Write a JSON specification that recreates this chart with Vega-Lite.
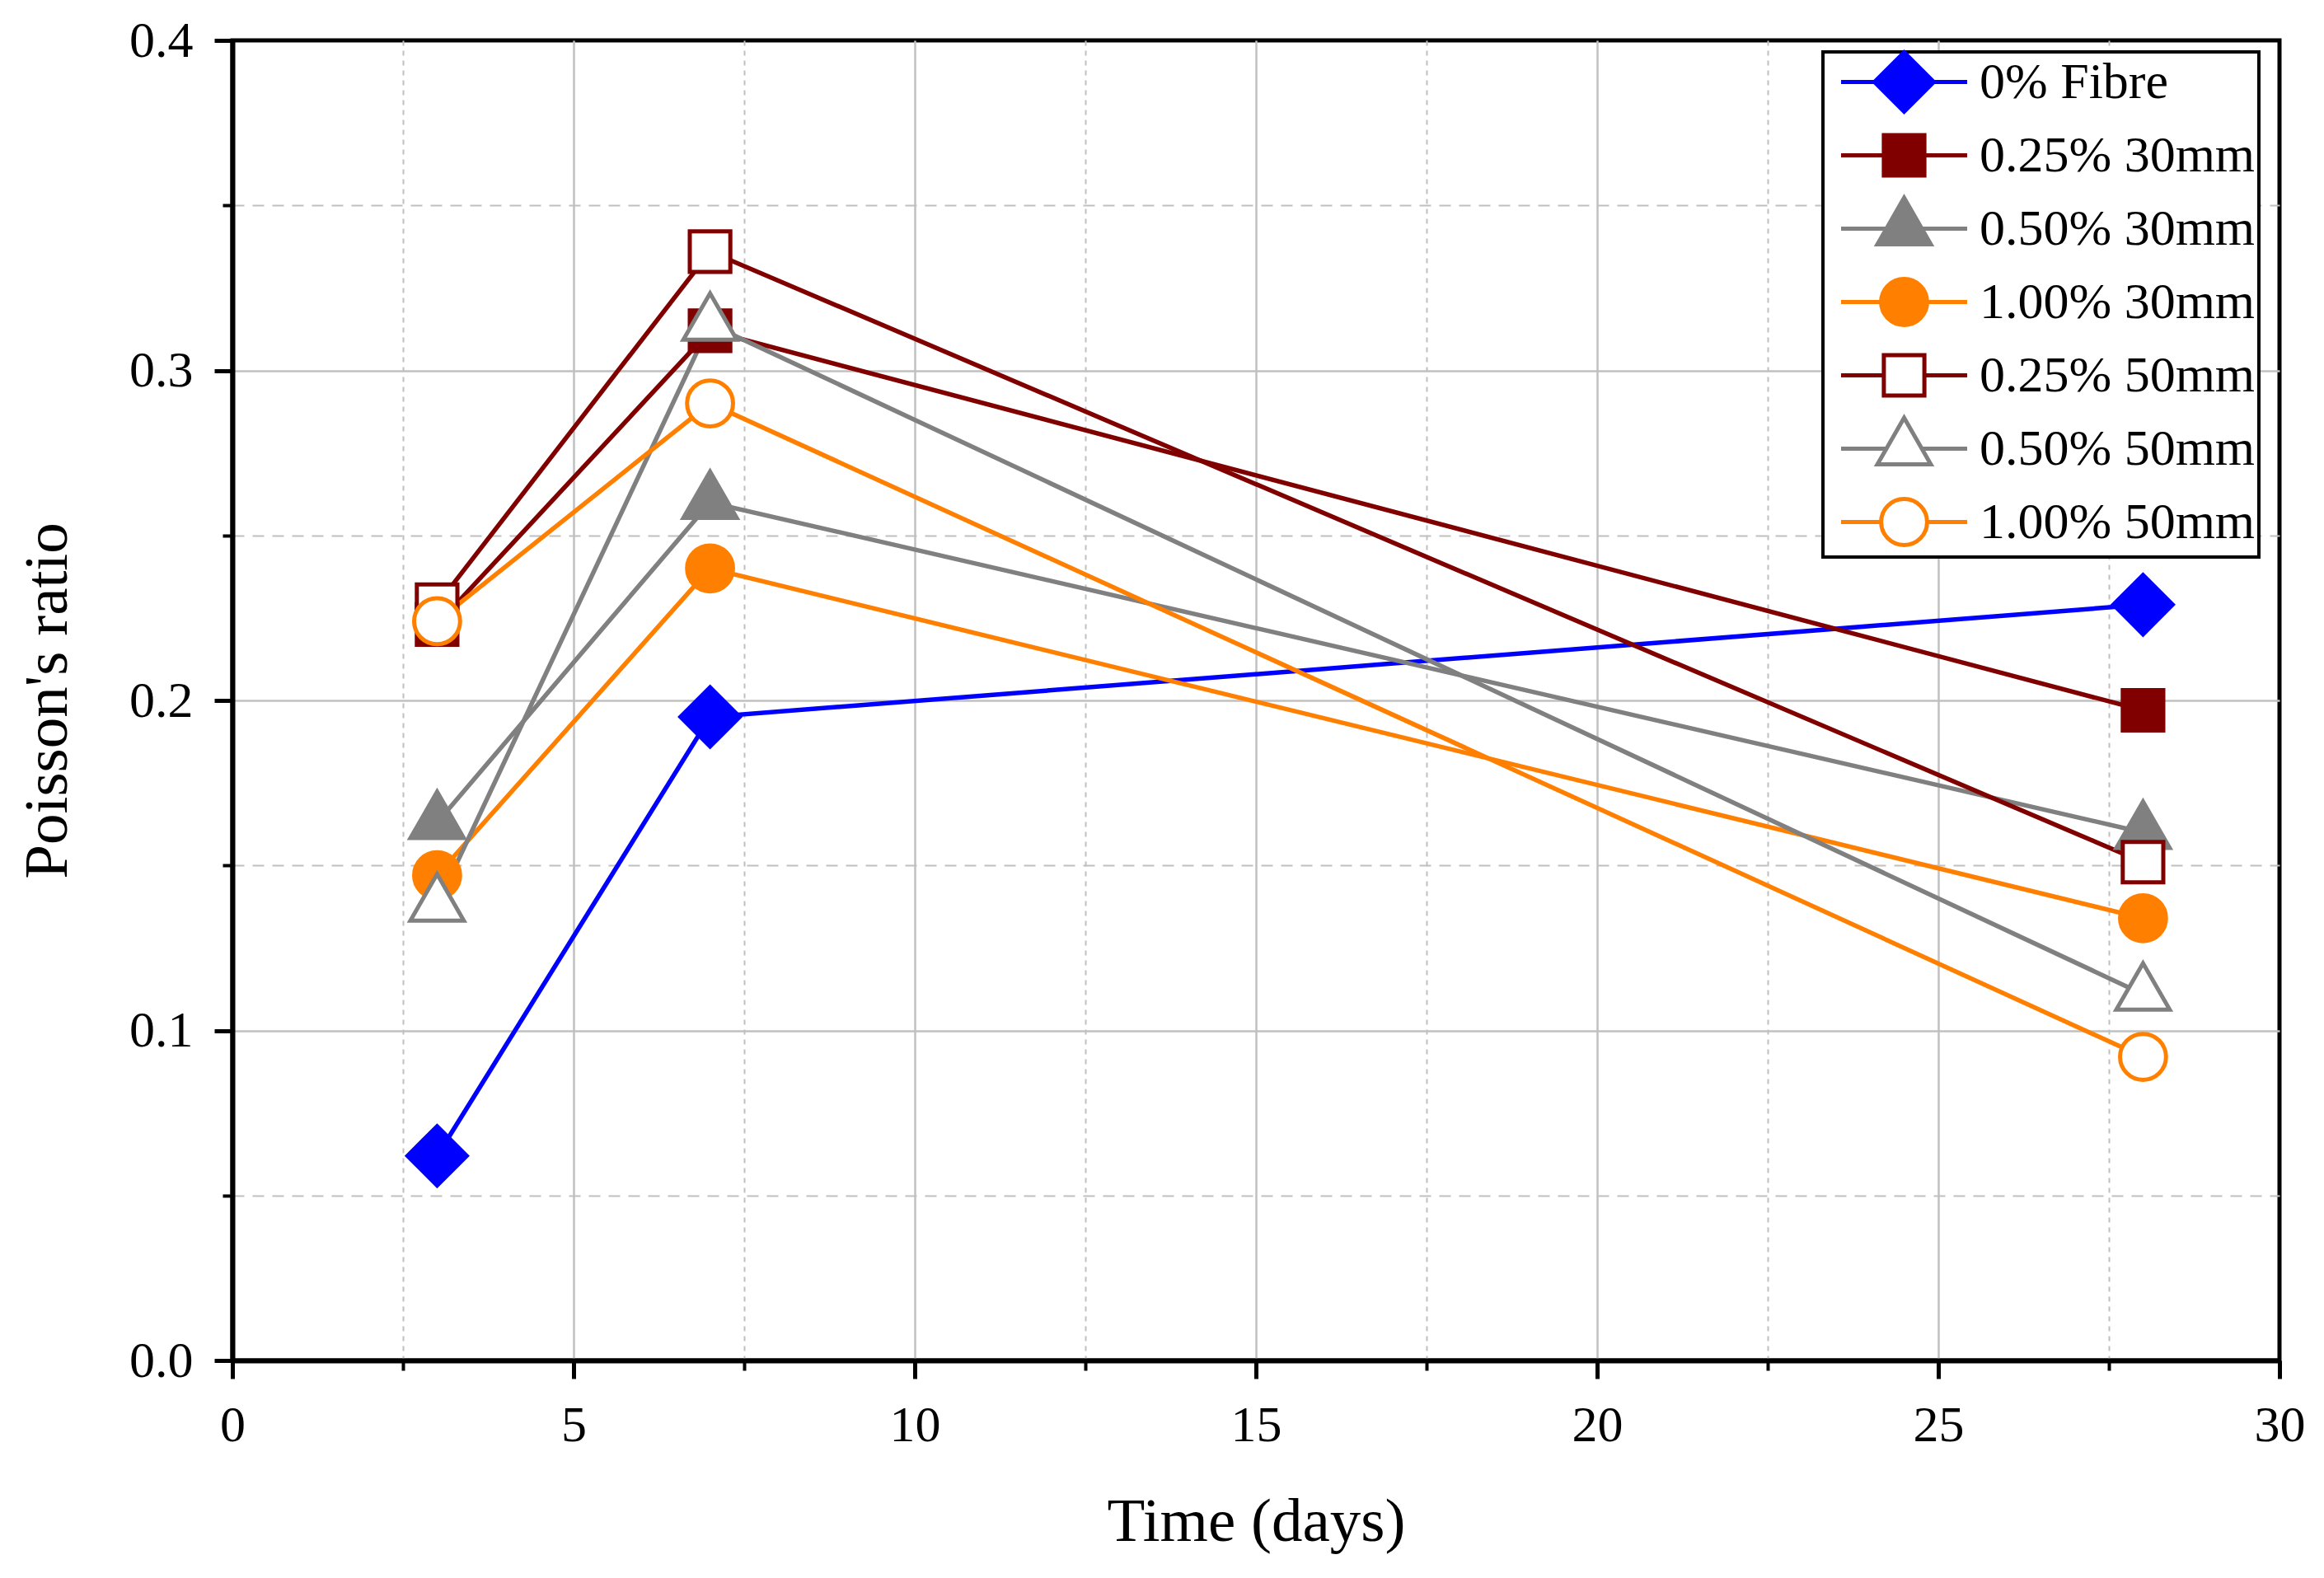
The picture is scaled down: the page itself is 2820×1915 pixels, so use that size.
{
  "$schema": "https://vega.github.io/schema/vega-lite/v6.json",
  "autosize": {"type": "none"},
  "width": 2484,
  "height": 1602,
  "padding": {"left": 282, "top": 49, "right": 54, "bottom": 264},
  "background": "white",
  "config": {
    "view": {"stroke": "black", "strokeWidth": 5},
    "font": "Liberation Serif",
    "legend": {"strokeWidth": 4}
  },
  "data": {
    "values": [
      {"series": "0% Fibre", "day": 3, "v": 0.062},
      {"series": "0% Fibre", "day": 7, "v": 0.195},
      {"series": "0% Fibre", "day": 28, "v": 0.229},
      {"series": "0.25% 30mm", "day": 3, "v": 0.223},
      {"series": "0.25% 30mm", "day": 7, "v": 0.312},
      {"series": "0.25% 30mm", "day": 28, "v": 0.197},
      {"series": "0.50% 30mm", "day": 3, "v": 0.163},
      {"series": "0.50% 30mm", "day": 7, "v": 0.260},
      {"series": "0.50% 30mm", "day": 28, "v": 0.160},
      {"series": "1.00% 30mm", "day": 3, "v": 0.147},
      {"series": "1.00% 30mm", "day": 7, "v": 0.240},
      {"series": "1.00% 30mm", "day": 28, "v": 0.134},
      {"series": "0.25% 50mm", "day": 3, "v": 0.229},
      {"series": "0.25% 50mm", "day": 7, "v": 0.336},
      {"series": "0.25% 50mm", "day": 28, "v": 0.151},
      {"series": "0.50% 50mm", "day": 3, "v": 0.138},
      {"series": "0.50% 50mm", "day": 7, "v": 0.314},
      {"series": "0.50% 50mm", "day": 28, "v": 0.111},
      {"series": "1.00% 50mm", "day": 3, "v": 0.224},
      {"series": "1.00% 50mm", "day": 7, "v": 0.290},
      {"series": "1.00% 50mm", "day": 28, "v": 0.092}
    ]
  },
  "layer": [
    {
      "mark": {"type": "point", "opacity": 0},
      "encoding": {
        "x": {
          "field": "day", "type": "quantitative",
          "scale": {"domain": [0, 30], "nice": false},
          "axis": {
            "orient": "bottom", "values": [2.5, 7.5, 12.5, 17.5, 22.5, 27.5],
            "labels": false, "domain": false, "ticks": true, "tickSize": 12, "tickWidth": 4, "tickColor": "black",
            "grid": true, "gridColor": "#c0c0c0", "gridWidth": 2, "gridDash": [6, 6], "title": null
          }
        },
        "y": {
          "field": "v", "type": "quantitative",
          "scale": {"domain": [0, 0.4], "nice": false},
          "axis": {
            "orient": "left", "values": [0.05, 0.15, 0.25, 0.35],
            "labels": false, "domain": false, "ticks": true, "tickSize": 12, "tickWidth": 4, "tickColor": "black",
            "grid": true, "gridColor": "#c0c0c0", "gridWidth": 2, "gridDash": [14, 10], "title": null
          }
        }
      }
    },
    {
      "mark": {"type": "point", "opacity": 0},
      "encoding": {
        "x": {
          "field": "day", "type": "quantitative",
          "scale": {"domain": [0, 30], "nice": false},
          "axis": {
            "orient": "bottom", "values": [0, 5, 10, 15, 20, 25, 30], "format": "d",
            "domain": true, "domainColor": "black", "domainWidth": 6,
            "ticks": true, "tickSize": 22, "tickWidth": 5, "tickColor": "black",
            "labelFontSize": 62, "labelPadding": 26, "labelColor": "black", "labelFlush": false,
            "grid": true, "gridColor": "#c0c0c0", "gridWidth": 2.5,
            "gridOpacity": {"condition": {"test": "datum.value == 0 || datum.value == 30", "value": 0}, "value": 1},
            "title": "Time (days)", "titleFontSize": 75, "titleFontWeight": "normal", "titleColor": "black", "titlePadding": 50
          }
        },
        "y": {
          "field": "v", "type": "quantitative",
          "scale": {"domain": [0, 0.4], "nice": false},
          "axis": {
            "orient": "left", "values": [0, 0.1, 0.2, 0.3, 0.4], "format": ".1f",
            "domain": true, "domainColor": "black", "domainWidth": 6,
            "ticks": true, "tickSize": 22, "tickWidth": 5, "tickColor": "black",
            "labelFontSize": 62, "labelPadding": 26, "labelColor": "black", "labelFlush": false,
            "grid": true, "gridColor": "#c0c0c0", "gridWidth": 2.5,
            "gridOpacity": {"condition": {"test": "datum.value == 0 || datum.value == 0.4", "value": 0}, "value": 1},
            "title": "Poisson's ratio", "titleFontSize": 75, "titleFontWeight": "normal", "titleColor": "black", "titlePadding": 60
          }
        }
      }
    },
    {
      "mark": {"type": "point", "filled": true, "opacity": 0, "size": 3600, "strokeWidth": 5},
      "encoding": {
        "x": {"field": "day", "type": "quantitative", "scale": {"domain": [0, 30], "nice": false}, "axis": null},
        "y": {"field": "v", "type": "quantitative", "scale": {"domain": [0, 0.4], "nice": false}, "axis": null},
        "shape": {
          "field": "series", "type": "nominal",
          "scale": {
            "domain": ["0% Fibre", "0.25% 30mm", "0.50% 30mm", "1.00% 30mm", "0.25% 50mm", "0.50% 50mm", "1.00% 50mm"],
            "range": [
              "M-2.55,0L-1.2,0M1.2,0L2.55,0M0,-1.2L1.2,0L0,1.2L-1.2,0Z",
              "M-2.55,0L-0.82,0M0.82,0L2.55,0M-0.82,-0.82L0.82,-0.82L0.82,0.82L-0.82,0.82Z",
              "M-2.55,0L-0.72,0M0.72,0L2.55,0M0,-1.25L1.08,0.63L-1.08,0.63Z",
              "M-2.55,0L-0.93,0M0.93,0L2.55,0M-0.93,0A0.93,0.93,0,1,1,0.93,0A0.93,0.93,0,1,1,-0.93,0Z",
              "M-2.55,0L-0.82,0M0.82,0L2.55,0M-0.82,-0.82L0.82,-0.82L0.82,0.82L-0.82,0.82Z",
              "M-2.55,0L-0.72,0M0.72,0L2.55,0M0,-1.25L1.08,0.63L-1.08,0.63Z",
              "M-2.55,0L-0.93,0M0.93,0L2.55,0M-0.93,0A0.93,0.93,0,1,1,0.93,0A0.93,0.93,0,1,1,-0.93,0Z"
            ]
          },
          "legend": {
            "title": null,
            "orient": "none",
            "legendX": 1930,
            "legendY": 14,
            "padding": 4,
            "rowPadding": -5,
            "gridAlign": "all",
            "symbolSize": 3600,
            "symbolStrokeWidth": 5,
            "symbolOpacity": 1,
            "symbolOffset": 62,
            "labelOffset": 59,
            "labelFontSize": 62,
            "labelColor": "black",
            "labelLimit": 0,
            "strokeColor": "black",
            "fillColor": "white"
          }
        },
        "stroke": {
          "field": "series", "type": "nominal",
          "scale": {
            "domain": ["0% Fibre", "0.25% 30mm", "0.50% 30mm", "1.00% 30mm", "0.25% 50mm", "0.50% 50mm", "1.00% 50mm"],
            "range": ["#0000ff", "#800000", "#808080", "#ff8000", "#800000", "#808080", "#ff8000"]
          }
        },
        "fill": {
          "field": "series", "type": "nominal",
          "scale": {
            "domain": ["0% Fibre", "0.25% 30mm", "0.50% 30mm", "1.00% 30mm", "0.25% 50mm", "0.50% 50mm", "1.00% 50mm"],
            "range": ["#0000ff", "#800000", "#808080", "#ff8000", "#ffffff", "#ffffff", "#ffffff"]
          }
        }
      }
    },
    {
      "mark": {"type": "line", "strokeWidth": 5.5},
      "encoding": {
        "x": {"field": "day", "type": "quantitative", "scale": {"domain": [0, 30], "nice": false}, "axis": null},
        "y": {"field": "v", "type": "quantitative", "scale": {"domain": [0, 0.4], "nice": false}, "axis": null},
        "stroke": {
          "field": "series", "type": "nominal",
          "scale": {
            "domain": ["0% Fibre", "0.25% 30mm", "0.50% 30mm", "1.00% 30mm", "0.25% 50mm", "0.50% 50mm", "1.00% 50mm"],
            "range": ["#0000ff", "#800000", "#808080", "#ff8000", "#800000", "#808080", "#ff8000"]
          }
        }
      }
    },
    {
      "mark": {
        "type": "point", "filled": true, "opacity": 1, "size": 3600, "strokeWidth": 5,
        "shape": {"expr": "{'0% Fibre': 'M0,-1.2L1.2,0L0,1.2L-1.2,0Z', '0.25% 30mm': 'M-0.82,-0.82L0.82,-0.82L0.82,0.82L-0.82,0.82Z', '0.50% 30mm': 'M0,-1.25L1.08,0.63L-1.08,0.63Z', '1.00% 30mm': 'M-0.93,0A0.93,0.93,0,1,1,0.93,0A0.93,0.93,0,1,1,-0.93,0Z', '0.25% 50mm': 'M-0.82,-0.82L0.82,-0.82L0.82,0.82L-0.82,0.82Z', '0.50% 50mm': 'M0,-1.25L1.08,0.63L-1.08,0.63Z', '1.00% 50mm': 'M-0.93,0A0.93,0.93,0,1,1,0.93,0A0.93,0.93,0,1,1,-0.93,0Z'}[datum.series]"}
      },
      "encoding": {
        "x": {"field": "day", "type": "quantitative", "scale": {"domain": [0, 30], "nice": false}, "axis": null},
        "y": {"field": "v", "type": "quantitative", "scale": {"domain": [0, 0.4], "nice": false}, "axis": null},
        "stroke": {
          "field": "series", "type": "nominal",
          "scale": {
            "domain": ["0% Fibre", "0.25% 30mm", "0.50% 30mm", "1.00% 30mm", "0.25% 50mm", "0.50% 50mm", "1.00% 50mm"],
            "range": ["#0000ff", "#800000", "#808080", "#ff8000", "#800000", "#808080", "#ff8000"]
          }
        },
        "fill": {
          "field": "series", "type": "nominal",
          "scale": {
            "domain": ["0% Fibre", "0.25% 30mm", "0.50% 30mm", "1.00% 30mm", "0.25% 50mm", "0.50% 50mm", "1.00% 50mm"],
            "range": ["#0000ff", "#800000", "#808080", "#ff8000", "#ffffff", "#ffffff", "#ffffff"]
          }
        }
      }
    }
  ],
  "resolve": {"axis": {"x": "independent", "y": "independent"}}
}
